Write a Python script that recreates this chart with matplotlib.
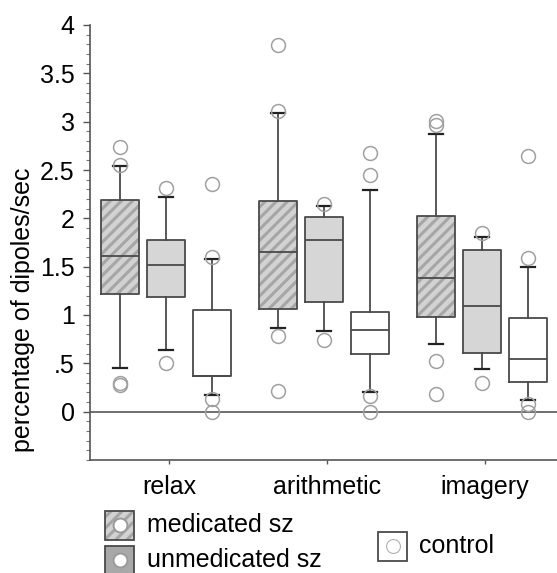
import numpy as np
import matplotlib
matplotlib.use('Agg')
import matplotlib.pyplot as plt
from matplotlib.patches import Rectangle
from matplotlib.lines import Line2D
from matplotlib.ticker import MultipleLocator, FixedLocator

plt.rcParams['font.family'] = ['Liberation Sans', 'DejaVu Sans']
plt.rcParams['hatch.linewidth'] = 2.2

# ---- data (conditions: relax, arithmetic, imagery) ----
conditions = ['relax', 'arithmetic', 'imagery']

med_q1 = [1.22, 1.06, 0.98]
med_median = [1.61, 1.65, 1.38]
med_q3 = [2.19, 2.18, 2.02]
med_whislo = [0.45, 0.87, 0.70]
med_whishi = [2.54, 3.09, 2.87]
med_fliers = [[2.74, 2.55, 0.30, 0.28], [3.79, 3.11, 0.78, 0.21], [3.01, 2.97, 0.52, 0.18]]

unmed_q1 = [1.19, 1.13, 0.61]
unmed_median = [1.52, 1.78, 1.09]
unmed_q3 = [1.78, 2.01, 1.67]
unmed_whislo = [0.64, 0.83, 0.44]
unmed_whishi = [2.22, 2.13, 1.81]
unmed_fliers = [[2.31, 0.50], [2.15, 0.74], [1.85, 0.30]]

ctrl_q1 = [0.37, 0.60, 0.31]
ctrl_median = [0.37, 0.84, 0.54]
ctrl_q3 = [1.05, 1.03, 0.97]
ctrl_whislo = [0.17, 0.20, 0.12]
ctrl_whishi = [1.58, 2.29, 1.50]
ctrl_fliers = [[2.36, 1.60, 0.13, 0.0], [2.68, 2.45, 0.16, 0.0], [2.65, 1.59, 0.08, 0.0]]

ytick_labels = ['0', '.5', '1', '1.5', '2', '2.5', '3', '3.5', '4']


def make_stats(q1, med, q3, lo, hi, fl):
    return [dict(q1=a, med=b, q3=c, whislo=d, whishi=e, fliers=f)
            for a, b, c, d, e, f in zip(q1, med, q3, lo, hi, fl)]


groups = [
    (make_stats(med_q1, med_median, med_q3, med_whislo, med_whishi, med_fliers), -0.291, '#d2d2d2', '///'),
    (make_stats(unmed_q1, unmed_median, unmed_q3, unmed_whislo, unmed_whishi, unmed_fliers), 0.0, '#d6d6d6', None),
    (make_stats(ctrl_q1, ctrl_median, ctrl_q3, ctrl_whislo, ctrl_whishi, ctrl_fliers), 0.291, 'white', None),
]

fig = plt.figure(figsize=(5.57, 5.73), dpi=100)
ax = fig.add_axes([90 / 557, 113 / 573, 1 - 90 / 557, 435 / 573])

edge = '#4a4a4a'
base = np.arange(1, len(conditions) + 1)
flier_style = dict(marker='o', markersize=10, markerfacecolor='none',
                   markeredgecolor='#a0a0a0', markeredgewidth=1.1, linestyle='none')

ax.axhline(0, color='#555555', lw=1.2, zorder=1)

for stats, off, fc, hatch in groups:
    pos = base + off
    # filled / hatched boxes without outline
    ax.bxp(stats, positions=pos, widths=0.24, patch_artist=True,
           showfliers=False, showcaps=False,
           boxprops=dict(facecolor=fc, edgecolor='#a6a6a6' if hatch else fc,
                         linewidth=0, hatch=hatch),
           whiskerprops=dict(linewidth=0), medianprops=dict(linewidth=0),
           manage_ticks=False, zorder=2)
    # outlines, whiskers, caps, medians and outliers
    ax.bxp(stats, positions=pos, widths=0.24, patch_artist=False,
           showfliers=True, showcaps=True,
           boxprops=dict(color=edge, linewidth=1.3),
           whiskerprops=dict(color=edge, linewidth=1.3),
           capprops=dict(color='#222222', linewidth=1.6),
           medianprops=dict(color=edge, linewidth=1.3),
           flierprops=flier_style, capwidths=0.085,
           manage_ticks=False, zorder=3)

ax.set_xlim(1 - 76 / 158, 3 + 75 / 158)
ax.set_ylim(-0.5, 4)

ax.spines['top'].set_visible(False)
ax.spines['right'].set_visible(False)
for s in ('left', 'bottom'):
    ax.spines[s].set_color('#555555')
    ax.spines[s].set_linewidth(1.2)

ax.yaxis.set_major_locator(FixedLocator(np.arange(0, 4.01, 0.5)))
ax.set_yticklabels(ytick_labels)
ax.yaxis.set_minor_locator(MultipleLocator(0.1))
ax.tick_params(axis='y', which='major', length=5, width=1, color='#555555',
               labelsize=18, pad=6)
ax.tick_params(axis='y', which='minor', length=3, width=0.8, color='#777777')

ax.set_xticks(base + 0.02)
ax.set_xticklabels(conditions)
ax.tick_params(axis='x', length=3, width=1, color='#555555', labelsize=18, pad=8)

ax.set_ylabel('percentage of dipoles/sec', fontsize=18)
ax.yaxis.set_label_coords(-0.118, 0.345)

# ---- legend drawn below the axes ----
W, H = 557.0, 573.0


def legend_box(x0, y_center, fc, hatch, ring, ring_w):
    s = 29
    xy = (x0 / W, (H - y_center - s / 2) / H)
    fig.add_artist(Rectangle(xy, s / W, s / H, transform=fig.transFigure,
                             facecolor=fc, hatch=hatch,
                             edgecolor='#a6a6a6' if hatch else fc, linewidth=0))
    fig.add_artist(Rectangle(xy, s / W, s / H, transform=fig.transFigure,
                             fill=False, edgecolor=edge, linewidth=1.3))
    cx, cy = (x0 + s / 2) / W, (H - y_center) / H
    fig.add_artist(Line2D([cx], [cy], transform=fig.transFigure, marker='o',
                          markersize=10, markerfacecolor='white',
                          markeredgecolor=ring, markeredgewidth=ring_w))


legend_box(105, 525, '#d2d2d2', '///', '#9a9a9a', 1.4)
legend_box(105, 560, '#a8a8a8', None, '#9a9a9a', 1.4)
legend_box(378, 546, 'white', None, '#b0b0b0', 0.8)

fig.text(147 / W, (H - 525) / H, 'medicated sz', fontsize=18, va='center', ha='left')
fig.text(147 / W, (H - 560) / H, 'unmedicated sz', fontsize=18, va='center', ha='left')
fig.text(419 / W, (H - 546) / H, 'control', fontsize=18, va='center', ha='left')

fig.savefig('out.png', dpi=100)
